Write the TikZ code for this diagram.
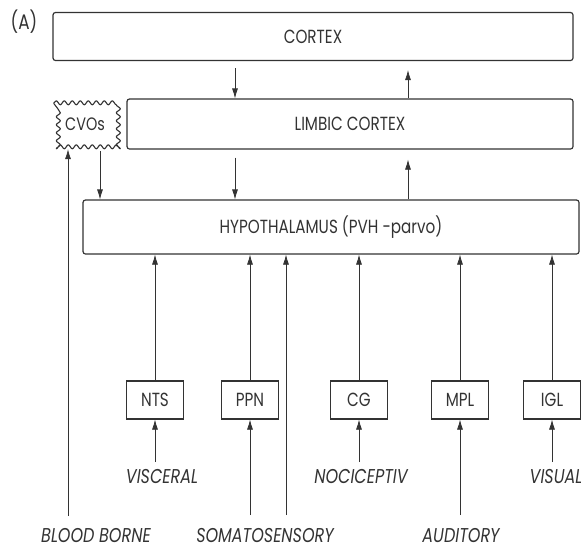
\documentclass[tikz,border=0pt]{standalone}
\usepackage{fontspec}
\setmainfont[FakeStretch=0.8]{Poppins}
\usetikzlibrary{arrows.meta,decorations.pathmorphing}
\definecolor{ink}{HTML}{333333}
\tikzset{
  bigbox/.style={draw=ink, line width=1.2pt, rounded corners=2.5pt, text=ink, font=\fontsize{19}{21}\selectfont, inner sep=0pt},
  smallbox/.style={draw=ink, line width=1.2pt, text=ink, font=\fontsize{19}{21}\selectfont, minimum width=57pt, minimum height=38pt, inner sep=0pt},
  srclabel/.style={text=ink, font=\fontsize{20}{22}\selectfont\itshape, inner sep=0pt, anchor=north},
  arr/.style={draw=ink, line width=0.7pt, -{Latex[length=10pt,width=6pt]}},
  ln/.style={draw=ink, line width=0.7pt}
}
\begin{document}
\begin{tikzpicture}[x=1pt,y=-1pt]
\useasboundingbox (0,0) rectangle (581,550);
% big boxes
\node[bigbox, minimum width=520pt, minimum height=48pt] (cortex) at (313,36.5) {CORTEX};
\node[bigbox, minimum width=446pt, minimum height=50pt] (limbic) at (350,124) {LIMBIC CORTEX};
\node[bigbox, minimum width=496pt, minimum height=54pt] (hypo) at (331,227) {HYPOTHALAMUS (PVH -parvo)};
\node[text=ink, font=\fontsize{21}{23}\selectfont, inner sep=0pt] (A) at (24,22) {(A)};
% CVOs
\node[minimum width=62pt, minimum height=42pt, inner sep=0pt, text=ink, font=\fontsize{18}{20}\selectfont] (cvo) at (85,124) {CVOs};
\draw[ink, line width=1.1pt, line join=round, decorate, decoration={snake, segment length=8pt, amplitude=2pt}]
  (cvo.north west) -- (cvo.north east) -- (cvo.south east) -- (cvo.south west) -- cycle;
% small boxes
\node[smallbox] (nts) at (155,400) {NTS};
\node[smallbox] (ppn) at (250,400) {PPN};
\node[smallbox] (cg) at (359,400) {CG};
\node[smallbox] (mpl) at (460,400) {MPL};
\node[smallbox] (igl) at (552,400) {IGL};
% source labels
\node[srclabel] (visc) at (162,469) {VISCERAL};
\node[srclabel] (noci) at (361,469) {NOCICEPTIV};
\node[srclabel] (vis) at (556,469) {VISUAL};
\node[srclabel] (blood) at (96,528) {BLOOD BORNE};
\node[srclabel] (soma) at (265,528) {SOMATOSENSORY};
\node[srclabel] (aud) at (461,528) {AUDITORY};
% coordinates for vertical arrows
\coordinate (xa) at (235,0);
\coordinate (xb) at (408,0);
\coordinate (xc) at (100,0);
\coordinate (xd) at (68,0);
\coordinate (s2) at (286,515);
% cortex <-> limbic
\draw[arr] ([yshift=-7pt]cortex.south -| xa) -- (limbic.north -| xa);
\draw[arr] (limbic.north -| xb) -- ([yshift=-9pt]cortex.south -| xb);
% limbic <-> hypothalamus
\draw[arr] ([yshift=-8pt]limbic.south -| xa) -- (hypo.north -| xa);
\draw[arr] (hypo.north -| xb) -- ([yshift=-10pt]limbic.south -| xb);
% CVOs
\draw[arr] ([yshift=-6pt]cvo.south -| xc) -- (hypo.north -| xc);
\draw[arr] (blood.north -| xd) ++(0,-12) -- ([yshift=-4pt]cvo.south -| xd);
% boxes to hypothalamus
\draw[arr] (nts) -- (nts |- hypo.south);
\draw[arr] (ppn) -- (ppn |- hypo.south);
\draw[arr] (cg) -- (cg |- hypo.south);
\draw[arr] (mpl) -- (mpl |- hypo.south);
\draw[arr] (igl) -- (igl |- hypo.south);
\draw[arr] (s2) -- (s2 |- hypo.south);
% sources to boxes
\draw[arr] ([yshift=7pt]visc.north -| nts) -- (nts);
\draw[arr] ([yshift=7pt]noci.north -| cg) -- (cg);
\draw[arr] ([yshift=7pt]vis.north -| igl) -- (igl);
\draw[arr] (s2 -| ppn) -- (ppn);
\draw[arr] ([yshift=13pt]aud.north -| mpl) -- (mpl);
\end{tikzpicture}
\end{document}
